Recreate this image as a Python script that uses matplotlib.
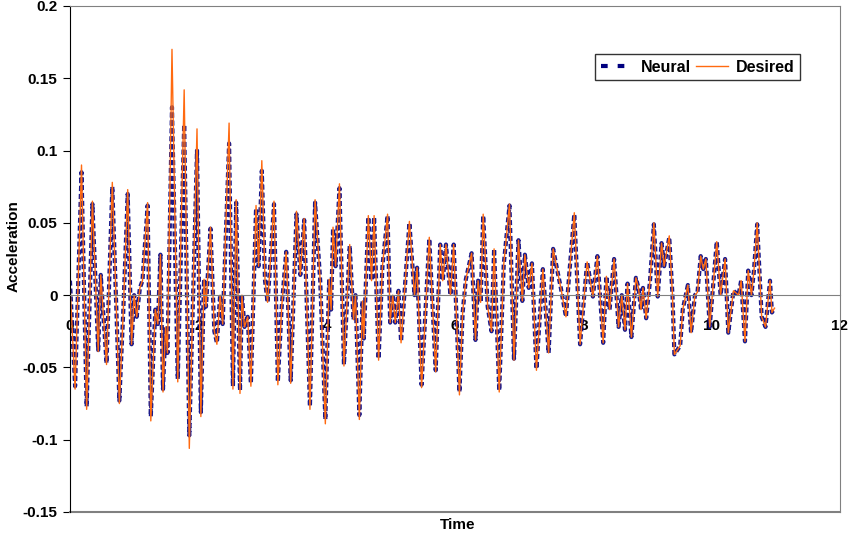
import matplotlib
matplotlib.use("Agg")
import matplotlib.pyplot as plt
from matplotlib.lines import Line2D

plt.rcParams["font.family"] = ["Liberation Sans", "DejaVu Sans"]

# peaks and troughs
time = [
    0.00, 0.08, 0.18, 0.26, 0.35, 0.44, 0.48, 0.57, 0.66, 0.77,
    0.83, 0.90, 0.96, 1.00, 1.04, 1.09, 1.13, 1.21, 1.26, 1.33,
    1.37, 1.41, 1.45, 1.49, 1.52, 1.59, 1.68, 1.78, 1.86, 1.98,
    2.04, 2.09, 2.12, 2.19, 2.25, 2.29, 2.34, 2.38, 2.48, 2.54,
    2.59, 2.65, 2.68, 2.72, 2.77, 2.82, 2.90, 2.94, 2.99, 3.04,
    3.08, 3.11, 3.18, 3.24, 3.30, 3.37, 3.44, 3.53, 3.59, 3.65,
    3.74, 3.82, 3.90, 3.98, 4.04, 4.07, 4.10, 4.14, 4.20, 4.27,
    4.36, 4.42, 4.45, 4.51, 4.56, 4.58, 4.65, 4.70, 4.74, 4.81,
    4.87, 4.95, 4.99, 5.03, 5.07, 5.12, 5.16, 5.29, 5.37, 5.41,
    5.48, 5.60, 5.70, 5.77, 5.81, 5.86, 5.93, 5.98, 6.07, 6.12,
    6.17, 6.26, 6.32, 6.36, 6.40, 6.44, 6.51, 6.57, 6.61, 6.69,
    6.76, 6.85, 6.92, 6.99, 7.05, 7.09, 7.15, 7.20, 7.27, 7.37,
    7.46, 7.53, 7.60, 7.65, 7.73, 7.78, 7.86, 7.95, 8.06, 8.15,
    8.22, 8.31, 8.36, 8.41, 8.48, 8.55, 8.60, 8.65, 8.69, 8.75,
    8.82, 8.86, 8.90, 8.93, 8.98, 9.04, 9.10, 9.16, 9.22, 9.26,
    9.34, 9.39, 9.42, 9.51, 9.55, 9.63, 9.68, 9.74, 9.78, 9.83,
    9.87, 9.91, 9.97, 10.08, 10.14, 10.21, 10.26, 10.34, 10.42, 10.46,
    10.52, 10.57, 10.62, 10.66, 10.71, 10.78, 10.84, 10.91, 10.94, 10.98,
]

desired = [
    0.008, -0.065, 0.090, -0.079, 0.065, -0.039, 0.014, -0.048, 0.078, -0.075,
    -0.012, 0.073, -0.034, 0.000, -0.015, 0.005, 0.010, 0.064, -0.087, -0.010,
    -0.020, 0.028, -0.067, -0.022, -0.040, 0.170, -0.060, 0.142, -0.106, 0.115,
    -0.084, 0.011, -0.008, 0.047, -0.025, -0.034, 0.000, -0.020, 0.119, -0.065,
    0.066, -0.068, 0.000, -0.022, -0.015, -0.063, 0.062, 0.020, 0.093, 0.010,
    -0.005, 0.014, 0.065, -0.062, -0.008, 0.030, -0.061, 0.058, 0.014, 0.053,
    -0.079, 0.066, 0.010, -0.089, 0.011, -0.010, 0.047, 0.020, 0.077, -0.049,
    0.035, -0.017, 0.000, -0.086, -0.004, -0.030, 0.055, 0.010, 0.055, -0.045,
    0.020, 0.056, -0.019, 0.000, -0.019, 0.003, -0.033, 0.051, 0.000, 0.019,
    -0.064, 0.040, -0.053, 0.035, 0.010, 0.035, 0.000, 0.035, -0.069, -0.012,
    0.011, 0.029, -0.031, 0.010, -0.005, 0.056, -0.008, -0.025, 0.032, -0.067,
    0.021, 0.063, -0.045, 0.038, -0.004, 0.028, 0.005, 0.022, -0.052, 0.018,
    -0.040, 0.032, 0.016, 0.005, -0.015, 0.014, 0.057, -0.034, 0.023, -0.001,
    0.027, -0.033, 0.013, -0.010, 0.025, -0.022, 0.000, -0.024, 0.008, -0.029,
    0.012, 0.005, -0.010, 0.005, -0.016, 0.010, 0.050, -0.001, 0.036, 0.020,
    0.041, 0.000, -0.041, -0.035, -0.010, 0.007, -0.026, 0.000, 0.002, 0.027,
    0.018, 0.025, -0.022, 0.037, 0.000, 0.025, -0.026, 0.003, 0.000, 0.010,
    -0.032, 0.017, 0.000, 0.017, 0.050, -0.015, -0.022, 0.010, -0.012, -0.009,
]

neural = [
    0.010, -0.063, 0.085, -0.077, 0.063, -0.038, 0.014, -0.047, 0.075, -0.073,
    -0.012, 0.070, -0.034, 0.000, -0.015, 0.005, 0.010, 0.062, -0.084, -0.010,
    -0.020, 0.028, -0.065, -0.022, -0.040, 0.130, -0.058, 0.118, -0.097, 0.100,
    -0.081, 0.011, -0.008, 0.046, -0.025, -0.033, 0.000, -0.020, 0.105, -0.063,
    0.064, -0.066, 0.000, -0.022, -0.015, -0.061, 0.060, 0.020, 0.086, 0.010,
    -0.005, 0.014, 0.063, -0.060, -0.008, 0.030, -0.059, 0.056, 0.014, 0.052,
    -0.077, 0.064, 0.010, -0.086, 0.011, -0.010, 0.046, 0.020, 0.074, -0.048,
    0.034, -0.017, 0.000, -0.083, -0.004, -0.030, 0.054, 0.010, 0.054, -0.044,
    0.020, 0.055, -0.019, 0.000, -0.019, 0.003, -0.032, 0.050, 0.000, 0.019,
    -0.062, 0.039, -0.052, 0.035, 0.010, 0.035, 0.000, 0.035, -0.067, -0.012,
    0.011, 0.029, -0.031, 0.010, -0.005, 0.055, -0.008, -0.025, 0.032, -0.066,
    0.021, 0.062, -0.044, 0.038, -0.004, 0.028, 0.005, 0.022, -0.051, 0.018,
    -0.040, 0.032, 0.016, 0.005, -0.015, 0.014, 0.056, -0.034, 0.023, -0.001,
    0.027, -0.033, 0.013, -0.010, 0.025, -0.022, 0.000, -0.024, 0.008, -0.029,
    0.012, 0.005, -0.010, 0.005, -0.016, 0.010, 0.049, -0.001, 0.036, 0.020,
    0.040, 0.000, -0.041, -0.035, -0.010, 0.007, -0.026, 0.000, 0.002, 0.027,
    0.018, 0.025, -0.022, 0.037, 0.000, 0.025, -0.026, 0.003, 0.000, 0.010,
    -0.032, 0.017, 0.000, 0.017, 0.049, -0.015, -0.022, 0.010, -0.012, -0.009,
]

y_ticks = [-0.15, -0.1, -0.05, 0, 0.05, 0.1, 0.15, 0.2]
y_labels = ["-0.15", "-0.1", "-0.05", "0", "0.05", "0.1", "0.15", "0.2"]
x_ticks = [0, 2, 4, 6, 8, 10, 12]
x_labels = ["0", "2", "4", "6", "8", "10", "12"]

fig = plt.figure(figsize=(8.48, 5.34), dpi=100)
ax = fig.add_axes([0.0825, 0.0412, 0.908, 0.9476])

ax.plot(time, neural, color="#000080", lw=3, dashes=(1.2, 0.7), alpha=0.9)
ax.plot(time, desired, color="#FF6A10", lw=1)

ax.set_xlim(0, 12)
ax.set_ylim(-0.15, 0.2)

ax.spines["bottom"].set_position(("data", 0))
ax.spines["bottom"].set_color("#808080")
ax.spines["top"].set_color("#808080")
ax.spines["right"].set_color("#808080")
ax.axhline(-0.15, color="#808080", lw=1.5, clip_on=False)

ax.set_yticks(y_ticks)
ax.set_yticklabels(y_labels, fontsize=11, fontweight="bold")
ax.set_xticks(x_ticks)
ax.set_xticklabels(x_labels, fontsize=11, fontweight="bold")
ax.tick_params(axis="x", length=0, pad=17)
ax.tick_params(axis="y", direction="out", length=5, pad=4)

fig.text(0.54, 0.003, "Time", ha="center", va="bottom",
         fontsize=11, fontweight="bold")
fig.text(0.008, 0.54, "Acceleration", ha="left", va="center",
         rotation=90, fontsize=11, fontweight="bold")

handles = [
    Line2D([], [], color="#000080", lw=3, dashes=(1.6, 2.4)),
    Line2D([], [], color="#FF6A10", lw=1),
]
leg = ax.legend(handles, ["Neural", "Desired"], loc="upper right",
                bbox_to_anchor=(0.948, 0.905), ncol=2,
                frameon=True, fancybox=False, borderaxespad=0,
                prop={"weight": "bold", "size": 11.5}, handlelength=2.0,
                handletextpad=0.5, columnspacing=0.3, borderpad=0.35)
leg.get_frame().set_edgecolor("black")
leg.get_frame().set_linewidth(1)

fig.savefig("out.png", dpi=100)
